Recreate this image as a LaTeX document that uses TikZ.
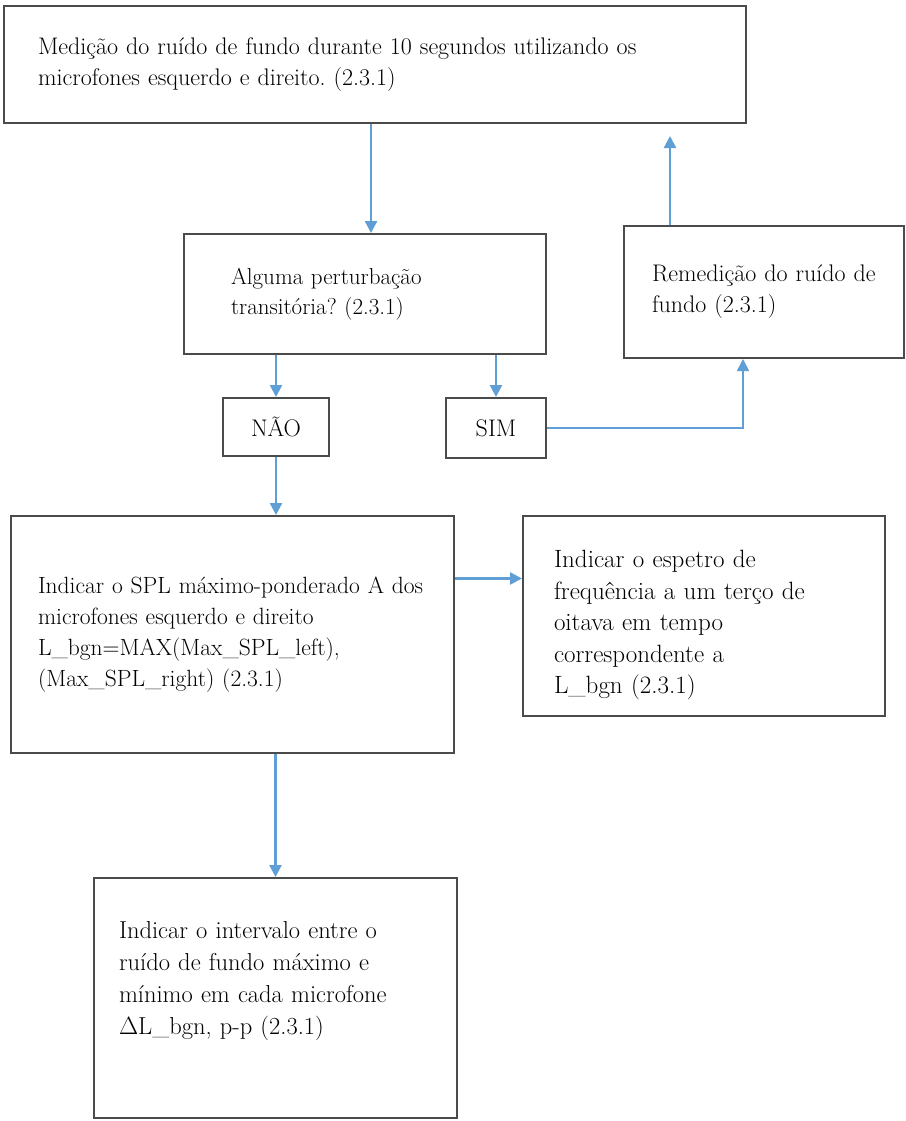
\documentclass[tikz,border=0pt]{standalone}
\usepackage{fontspec}
\usetikzlibrary{arrows.meta}
\definecolor{arrowblue}{RGB}{96,158,214}
\definecolor{boxline}{RGB}{75,75,75}
\frenchspacing
\begin{document}
\begin{tikzpicture}[x=1pt,y=-1pt,
  box/.style={draw=boxline, line width=2pt, rectangle, anchor=north west, align=left,
    inner ysep=0pt, font=\fontsize{24}{31}\selectfont, fill=white},
  arr/.style={draw=arrowblue, line width=2.4pt, -{Triangle[width=12pt,length=12pt]}}]
\useasboundingbox (0,0) rectangle (905,1121);
\fill[white] (0,0) rectangle (905,1121);

\node[box, minimum width=742pt, minimum height=117pt, inner xsep=34pt, text width=674pt] (top) at (3,5)
  {Medição do ruído de fundo durante 10 segundos utilizando os\\microfones esquerdo e direito. (2.3.1)};

\node[box, font=\fontsize{23}{30}\selectfont, minimum width=362pt, minimum height=120pt, inner xsep=47pt, text width=268pt] (alg) at (183,233)
  {Alguma perturbação\\transitória? (2.3.1)};

\node[box, minimum width=280pt, minimum height=132pt, inner xsep=28pt, text width=224pt] (rem) at (623,225)
  {Remedição do ruído de\\fundo (2.3.1)};

\node[box, align=center, minimum width=106pt, minimum height=58pt, inner xsep=4pt, text width=98pt] (nao) at (222,397) {NÃO};

\node[box, align=center, minimum width=100pt, minimum height=60pt, inner xsep=4pt, text width=92pt] (sim) at (445,397) {SIM};

\node[box, font=\fontsize{23.5}{31}\selectfont, minimum width=443pt, minimum height=237pt, inner xsep=27pt, text width=389pt] (big) at (10,515)
  {Indicar o SPL máximo-ponderado A dos\\microfones esquerdo e direito\\L\_bgn=MAX(Max\_SPL\_left),\\(Max\_SPL\_right) (2.3.1)};

\node[box, font=\fontsize{25}{31.5}\selectfont, minimum width=362pt, minimum height=200pt, inner xsep=31pt, text width=300pt] (rgt) at (522,515)
  {\rule{0pt}{36pt}Indicar o espetro de\\frequência a um terço de\\oitava em tempo\\correspondente a\\L\_bgn (2.3.1)};

\node[box, font=\fontsize{24.5}{32}\selectfont, minimum width=363pt, minimum height=240pt, inner xsep=25pt, text width=313pt] (bot) at (93,877)
  {Indicar o intervalo entre o\\ruído de fundo máximo e\\mínimo em cada microfone\\$\Delta$L\_bgn, p-p (2.3.1)\rule[-40pt]{0pt}{1pt}};

\draw[arr] ([xshift=6pt]top.south -| alg.north) -- ([xshift=6pt]alg.north);
\draw[arr, shorten >=12pt] ([xshift=-94pt]rem.north) -- ([xshift=-94pt]rem.north |- top.south);
\draw[arr] (alg.south -| nao.north) -- (nao.north);
\draw[arr] (alg.south -| sim.north) -- (sim.north);
\draw[arr, line width=1.8pt] (sim.east) -| ([xshift=-21pt]rem.south);
\draw[arr] (nao.south) -- (nao.south |- big.north);
\draw[arr] ([yshift=56pt]big.east) -- ([yshift=56pt]big.east -| rgt.west);
\draw[arr] (big.south -| bot.north) -- (bot.north);
\end{tikzpicture}
\end{document}
